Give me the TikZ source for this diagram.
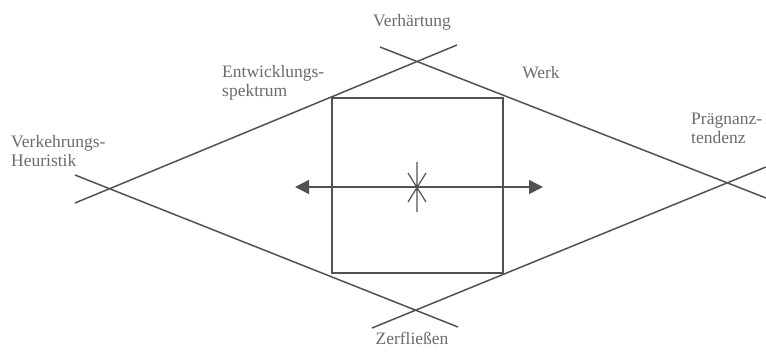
\documentclass[tikz,border=0pt]{standalone}
\usepackage{fontspec}
\setmainfont{Liberation Serif}
\usetikzlibrary{arrows.meta,positioning,calc}

\begin{document}
\begin{tikzpicture}[x=1pt,y=-1pt,>={Triangle[length=14pt,width=14pt]},
  ln/.style={draw=black!68,line width=1.5pt},
  lbl/.style={text=black!58,font=\fontsize{17.5}{19}\selectfont,align=left,inner sep=0pt}]
\useasboundingbox (0,0) rectangle (766,351);
% ends of the four crossing lines
\coordinate (a1) at (75,203);  \coordinate (a2) at (457,45);
\coordinate (b1) at (380,47);  \coordinate (b2) at (766,198);
\coordinate (c1) at (75,175);  \coordinate (c2) at (458,327);
\coordinate (d1) at (372,328); \coordinate (d2) at (766,167);
\draw[ln] (a1) -- (a2);
\draw[ln] (b1) -- (b2);
\draw[ln] (c1) -- (c2);
\draw[ln] (d1) -- (d2);
\node[ln,minimum width=171pt,minimum height=175pt,inner sep=0pt] (werk) at (417.5,185.5) {};
% double arrow and centre mark
\coordinate (pl) at (295,187); \coordinate (pr) at (543,187);
\draw[ln,<->] (pl) -- (pr);
\coordinate (m1) at (417,162); \coordinate (m2) at (417,212);
\coordinate (m3) at (408,173); \coordinate (m4) at (426,202);
\coordinate (m5) at (426,173); \coordinate (m6) at (408,202);
\draw[ln,line width=1.2pt] (m1) -- (m2) (m3) -- (m4) (m5) -- (m6);
\node[lbl] (verh) at (412,22) {Verhärtung};
\node[lbl] (zerf) at (412,338) {Zerfließen};
\node[lbl,anchor=west] (entw) at (222,83) {Entwicklungs-\\spektrum};
\node[lbl] (wk) at (541,73) {Werk};
\node[lbl,anchor=west] (praeg) at (691,128) {Prägnanz-\\tendenz};
\node[lbl,anchor=west] (verk) at (11,151) {Verkehrungs-\\Heuristik};
\end{tikzpicture}
\end{document}
